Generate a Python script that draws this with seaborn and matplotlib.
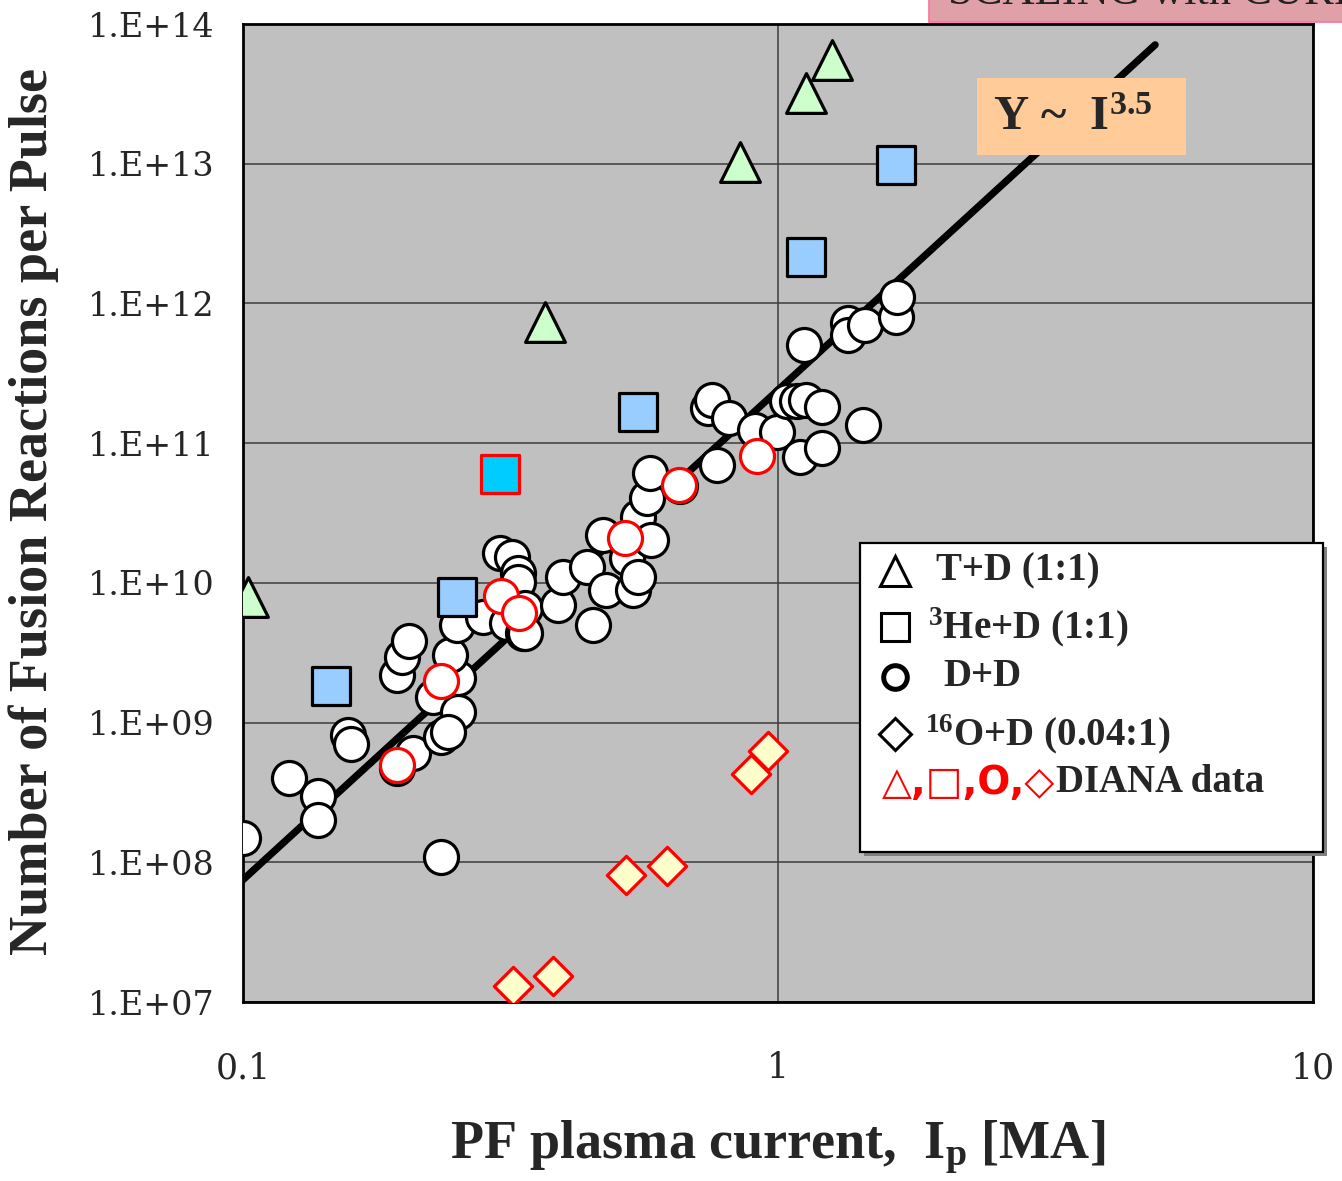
import numpy as np
import matplotlib
matplotlib.use("Agg")
import matplotlib.pyplot as plt
from matplotlib.lines import Line2D
from matplotlib.patches import Rectangle
from matplotlib.ticker import LogLocator, FixedLocator, FuncFormatter, NullFormatter
import seaborn as sns

# ---------------- data ----------------
td_x = [0.102, 0.367, 0.849, 1.13, 1.26]
td_y = [7.9e9, 7.4e11, 1.03e13, 3.2e13, 5.5e13]

he_x = [0.146, 0.251, 0.547, 1.13, 1.66]
he_y = [1.82e9, 7.9e9, 1.67e11, 2.15e12, 9.8e12]

he_diana_x = [0.302]
he_diana_y = [6.0e10]

dd_x = [0.100, 0.122, 0.138, 0.138, 0.157, 0.159, 0.194, 0.198, 0.204, 0.194,
        0.208, 0.234, 0.227, 0.252, 0.244, 0.252, 0.234, 0.242, 0.251, 0.281,
        0.311, 0.333, 0.302, 0.318, 0.326, 0.326, 0.336, 0.336, 0.388, 0.397,
        0.439, 0.451, 0.471, 0.477, 0.523, 0.535, 0.547, 0.547, 0.569, 0.577,
        0.580, 0.655, 0.740, 0.753, 0.769, 0.810, 0.906, 0.996, 1.04, 1.086,
        1.10, 1.12, 1.13, 1.21, 1.21, 1.35, 1.35, 1.44, 1.454, 1.66, 1.67]
dd_y = [1.49e8, 4.0e8, 3.0e8, 2.0e8, 8.1e8, 7.0e8, 2.19e9, 2.94e9, 3.83e9, 4.7e8,
        6.05e8, 1.1e8, 1.52e9, 2.08e9, 3.04e9, 1.19e9, 7.9e8, 8.55e8, 5.0e9, 5.7e9,
        5.15e9, 4.37e9, 1.63e10, 1.53e10, 1.17e10, 1.01e10, 6.6e9, 4.4e9, 6.9e9, 1.1e10,
        1.3e10, 5.0e9, 2.2e10, 8.9e9, 1.5e10, 8.9e9, 2.96e10, 1.1e10, 4.05e10, 6.1e10,
        2.02e10, 4.9e10, 1.78e11, 2.03e11, 6.97e10, 1.51e11, 1.24e11, 1.2e11, 2.0e11, 2.0e11,
        7.9e10, 5.0e11, 2.03e11, 1.81e11, 9.2e10, 7.2e11, 5.9e11, 1.35e11, 7.0e11, 8.0e11, 1.11e12]

dd_diana_x = [0.194, 0.234, 0.303, 0.328, 0.518, 0.653, 0.913]
dd_diana_y = [4.97e8, 2.0e9, 8.05e9, 6.1e9, 2.1e10, 5.0e10, 8.1e10]

od_x = [0.320, 0.380, 0.520, 0.620, 0.890, 0.958]
od_y = [1.3e7, 1.53e7, 8.1e7, 9.4e7, 4.3e8, 6.25e8]

fit_x = [0.1, 5.07]
fit_y = [7.5e7, 7.1e13]

y_ticks = [1e7, 1e8, 1e9, 1e10, 1e11, 1e12, 1e13, 1e14]
x_ticks = [0.1, 1, 10]
x_tick_labels = ["0.1", "1", "10"]

legend_labels = ["T+D (1:1)", r"$\mathregular{^{3}}$He+D (1:1)", "D+D",
                 r"$\mathregular{^{16}}$O+D (0.04:1)"]

# ---------------- style ----------------
sns.set_style("white")
plt.rcParams["font.family"] = ["Liberation Serif", "DejaVu Sans"]
plt.rcParams["mathtext.fontset"] = "custom"
plt.rcParams["mathtext.rm"] = "Liberation Serif:bold"
plt.rcParams["mathtext.bf"] = "Liberation Serif:bold"
plt.rcParams["mathtext.it"] = "Liberation Serif:bold"

W, H = 1342, 1181
fig = plt.figure(figsize=(W / 100, H / 100), dpi=100)
fig.patch.set_facecolor("white")

def fx(px):
    return px / W

def fy(py):
    return 1 - py / H

ax = fig.add_axes([fx(243), fy(1002), fx(1313) - fx(243), fy(24) - fy(1002)])
ax.set_facecolor("#C0C0C0")
ax.set_xscale("log")
ax.set_yscale("log")
ax.set_xlim(0.1, 10)
ax.set_ylim(1e7, 1e14)

# grid
ax.set_axisbelow(True)
ax.grid(True, which="major", color="#3c3c3c", linewidth=1.1)
ax.grid(False, which="minor")

# fit line
sns.lineplot(x=fit_x, y=fit_y, ax=ax, color="black", linewidth=5.2,
             solid_capstyle="round", zorder=2, legend=False)

# markers
sns.scatterplot(x=dd_x, y=dd_y, ax=ax, marker="o", s=600, color="white",
                edgecolor="black", linewidth=2.3, zorder=3, legend=False)
sns.scatterplot(x=dd_diana_x, y=dd_diana_y, ax=ax, marker="o", s=600, color="white",
                edgecolor="#FF0000", linewidth=2.3, zorder=4, legend=False)
sns.scatterplot(x=he_x, y=he_y, ax=ax, marker="s", s=780, color="#99CCFF",
                edgecolor="black", linewidth=2.3, zorder=5, legend=False)
sns.scatterplot(x=he_diana_x, y=he_diana_y, ax=ax, marker="s", s=780, color="#00CCFF",
                edgecolor="#FF0000", linewidth=2.3, zorder=5, legend=False)
sns.scatterplot(x=td_x, y=td_y, ax=ax, marker="^", s=820, color="#CCFFCC",
                edgecolor="black", linewidth=2.3, zorder=6, legend=False)
sns.scatterplot(x=od_x, y=od_y, ax=ax, marker="D", s=380, color="#FFFFCC",
                edgecolor="#FF0000", linewidth=2.3, zorder=6, legend=False)

# axes / ticks
for sp in ax.spines.values():
    sp.set_linewidth(2.0)
    sp.set_color("black")

ax.yaxis.set_major_locator(FixedLocator(y_ticks))
ax.yaxis.set_minor_locator(LogLocator(base=10, subs=np.arange(2, 10), numticks=20))
ax.yaxis.set_major_formatter(FuncFormatter(lambda v, p: "1.E+%02d" % int(round(np.log10(v)))))
ax.yaxis.set_minor_formatter(NullFormatter())
ax.xaxis.set_major_locator(FixedLocator(x_ticks))
ax.xaxis.set_minor_locator(LogLocator(base=10, subs=np.arange(2, 10), numticks=20))
ax.xaxis.set_major_formatter(FuncFormatter(lambda v, p: x_tick_labels[x_ticks.index(v)] if v in x_ticks else ""))
ax.xaxis.set_minor_formatter(NullFormatter())

ax.tick_params(axis="both", which="major", direction="out", length=7.5, width=1.3,
               color="black")
ax.tick_params(axis="y", which="major", labelsize=24, pad=13)
ax.tick_params(axis="x", which="major", labelsize=25, pad=28)
ax.tick_params(axis="both", which="minor", direction="out", length=5.5, width=1.1,
               color="black")
for lab in ax.get_yticklabels() + ax.get_xticklabels():
    lab.set_fontfamily("DejaVu Serif")

ax.set_xlabel(r"PF plasma current,  I$\mathregular{_{p}}$ [MA]", fontsize=39,
              fontweight="bold")
ax.set_ylabel("Number of Fusion Reactions per Pulse", fontsize=39, fontweight="bold")
ax.xaxis.set_label_coords(0.5, (1002 - 1147) / 978)
ax.xaxis.label.set_va("center")
ax.yaxis.set_label_coords((34 - 243) / 1070, (1002 - 512) / 978)
ax.yaxis.label.set_va("center")

# fit annotation box
fig.add_artist(Rectangle((fx(977), fy(155)), fx(1186) - fx(977), fy(78) - fy(155),
                         transform=fig.transFigure, facecolor="#FFCC99",
                         edgecolor="none", zorder=5))
fig.text(fx(1073), fy(118), r"Y ~  I$\mathregular{^{3.5}}$", fontsize=35,
         fontweight="bold", ha="center", va="center", zorder=6)

# top-right clipped title box (cut off at the figure edge, as in the original)
fig.add_artist(Rectangle((fx(929), fy(22)), fx(1345) - fx(929), fy(-5) - fy(22),
                         transform=fig.transFigure, facecolor="#E0A0A8",
                         edgecolor="#FF6F9F", linewidth=1.2, zorder=5))
fig.text(fx(948), fy(4), "SCALING with CURRENT", fontsize=32, color="#222222",
         ha="left", va="baseline", zorder=6)

# legend box (with shadow)
lx0, ly0, lx1, ly1 = 860, 543, 1323, 852
fig.add_artist(Rectangle((fx(lx0 + 4), fy(ly1 + 4)), fx(lx1) - fx(lx0), fy(ly0) - fy(ly1),
                         transform=fig.transFigure, facecolor="#808080",
                         edgecolor="none", zorder=7))
fig.add_artist(Rectangle((fx(lx0), fy(ly1)), fx(lx1) - fx(lx0), fy(ly0) - fy(ly1),
                         transform=fig.transFigure, facecolor="white",
                         edgecolor="black", linewidth=1.6, zorder=8))

rows = [571, 627, 677, 734]
handle_specs = [dict(marker="^", ms=22, mew=2.2),
                dict(marker="s", ms=20, mew=2.2),
                dict(marker="o", ms=17, mew=3.6),
                dict(marker="D", ms=16, mew=2.2)]
text_x = [936, 928, 943, 925]
for ry, spec, lab, tx in zip(rows, handle_specs, legend_labels, text_x):
    fig.add_artist(Line2D([fx(895)], [fy(ry)], transform=fig.transFigure,
                          linestyle="none", mfc="none", mec="black", zorder=9, **spec))
    fig.text(fx(tx), fy(ry), lab, fontsize=28, fontweight="bold",
             ha="left", va="center", zorder=9)

fig.text(fx(1055), fy(783), "\u25B3,\u25A1,O,\u25C7", fontsize=28, fontweight="bold",
         color="#FF0000", ha="right", va="center", zorder=9,
         family=["DejaVu Sans"])
fig.text(fx(1056), fy(783), "DIANA data", fontsize=28, fontweight="bold",
         ha="left", va="center", zorder=9)

fig.savefig("out.png", dpi=100)
